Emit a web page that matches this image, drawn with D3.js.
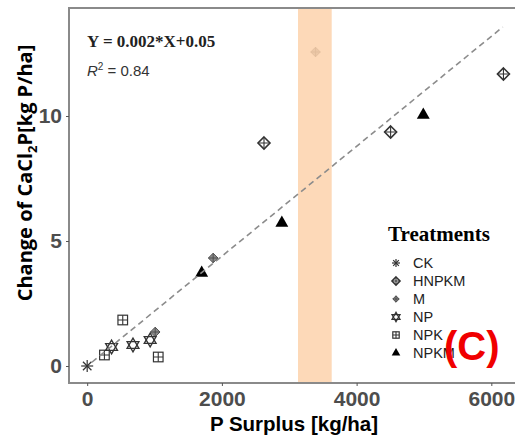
<!DOCTYPE html>
<html>
<head>
<meta charset="utf-8">
<script src="https://cdn.jsdelivr.net/npm/d3@7"></script>
<style>
  body { margin: 0; background: #fff; }
  text { font-family: Arial, "Liberation Sans", sans-serif; }
</style>
</head>
<body>
<div id="chart"></div>
<script>
'use strict';

// treatments and their points
var treatments = ['CK', 'HNPKM', 'M', 'NP', 'NPK', 'NPKM'];
var surplusCK = [0];
var changeCK = [0];
var surplusHNPKM = [2625, 4505, 6180];
var changeHNPKM = [8.92, 9.36, 11.68];
var surplusM = [1010, 1870, 3390];
var changeM = [1.36, 4.32, 12.56];
var surplusNP = [362, 680, 935];
var changeNP = [0.76, 0.84, 1.04];
var surplusNPK = [256, 528, 1055];
var changeNPK = [0.44, 1.84, 0.36];
var surplusNPKM = [1700, 2890, 4990];
var changeNPKM = [3.72, 5.72, 10.04];

// fitted line ends, highlighted band
var fitX = [70, 6170];
var fitY = [0.15, 13.56];
var band = [3130, 3630];

var xTicks = [0, 2000, 4000, 6000];
var yTicks = [0, 5, 10];

function render() {
  var width = 515, height = 437;
  var margin = {left: 69, top: 8, right: -10, bottom: 54};

  var svg = d3.select('#chart').append('svg')
    .attr('width', width)
    .attr('height', height);

  var x = d3.scaleLinear().domain([-270, 6500]).range([margin.left, width - margin.right]);
  var y = d3.scaleLinear().domain([-0.68, 14.32]).range([height - margin.bottom, margin.top]);

  var series = [
    {name: 'CK', xs: surplusCK, ys: changeCK},
    {name: 'HNPKM', xs: surplusHNPKM, ys: changeHNPKM},
    {name: 'M', xs: surplusM, ys: changeM},
    {name: 'NP', xs: surplusNP, ys: changeNP},
    {name: 'NPK', xs: surplusNPK, ys: changeNPK},
    {name: 'NPKM', xs: surplusNPKM, ys: changeNPKM}
  ];

  // marker drawing per treatment (ggplot shapes 8..12, 17)
  function drawShape(g, name, s) {
    var stroke = '#333';
    if (name === 'CK') {
      [0, 45, 90, 135].forEach(function(a) {
        g.append('line').attr('x1', -s).attr('x2', s).attr('y1', 0).attr('y2', 0)
          .attr('transform', 'rotate(' + a + ')')
          .attr('stroke', stroke).attr('stroke-width', 1.2);
      });
    } else if (name === 'HNPKM') {
      g.append('path').attr('d', 'M0,' + (-s) + 'L' + s + ',0L0,' + s + 'L' + (-s) + ',0Z')
        .attr('fill', 'none').attr('stroke', stroke).attr('stroke-width', 1.6);
      g.append('path').attr('d', 'M0,' + (-s) + 'V' + s + 'M' + (-s) + ',0H' + s)
        .attr('stroke', stroke).attr('stroke-width', 1.1);
    } else if (name === 'M') {
      var m = s * 0.8;
      g.append('path').attr('d', 'M0,' + (-m) + 'L' + m + ',0L0,' + m + 'L' + (-m) + ',0Z')
        .attr('fill', '#8a8a8a').attr('stroke', '#555').attr('stroke-width', 1);
      g.append('path').attr('d', 'M0,' + (-m) + 'V' + m + 'M' + (-m) + ',0H' + m)
        .attr('stroke', '#444').attr('stroke-width', 0.8);
    } else if (name === 'NP') {
      var r = s * 1.0;
      g.append('path').attr('d', d3.symbol().type(d3.symbolTriangle).size(r * r * 1.7)())
        .attr('fill', 'none').attr('stroke', stroke).attr('stroke-width', 1.3);
      g.append('path').attr('d', d3.symbol().type(d3.symbolTriangle).size(r * r * 1.7)())
        .attr('transform', 'rotate(180)')
        .attr('fill', 'none').attr('stroke', stroke).attr('stroke-width', 1.3);
    } else if (name === 'NPK') {
      var q = s * 0.8;
      g.append('rect').attr('x', -q).attr('y', -q).attr('width', 2 * q).attr('height', 2 * q)
        .attr('fill', 'none').attr('stroke', stroke).attr('stroke-width', 1.2);
      g.append('path').attr('d', 'M0,' + (-q) + 'V' + q + 'M' + (-q) + ',0H' + q)
        .attr('stroke', stroke).attr('stroke-width', 1.1);
    } else if (name === 'NPKM') {
      g.append('path').attr('d', d3.symbol().type(d3.symbolTriangle).size(s * s * 2.0)())
        .attr('fill', '#000');
    }
  }

  // points
  series.forEach(function(sr) {
    sr.xs.forEach(function(v, i) {
      var g = svg.append('g')
        .attr('transform', 'translate(' + x(v) + ',' + y(sr.ys[i]) + ')');
      drawShape(g, sr.name, 6);
    });
  });

  // highlighted band over the points
  svg.append('rect')
    .attr('x', x(band[0])).attr('y', margin.top)
    .attr('width', x(band[1]) - x(band[0]))
    .attr('height', y(-0.68) - margin.top)
    .attr('fill', '#fdd2ab').attr('opacity', 0.85);

  // fitted line
  svg.append('line')
    .attr('x1', x(fitX[0])).attr('y1', y(fitY[0]))
    .attr('x2', x(fitX[1])).attr('y2', y(fitY[1]))
    .attr('stroke', '#8c8c8c').attr('stroke-width', 1.6)
    .attr('stroke-dasharray', '6,4');

  // panel border: left, top, bottom
  var x0 = margin.left, yB = y(-0.68);
  svg.append('path')
    .attr('d', 'M' + width + ',' + margin.top + 'H' + x0 + 'V' + yB + 'H' + width)
    .attr('fill', 'none').attr('stroke', '#8a8a8a').attr('stroke-width', 2);

  // axes
  var xAxis = svg.append('g').attr('transform', 'translate(0,' + yB + ')')
    .call(d3.axisBottom(x).tickValues(xTicks).tickFormat(d3.format('d')).tickSize(3).tickPadding(5));
  var yAxis = svg.append('g').attr('transform', 'translate(' + x0 + ',0)')
    .call(d3.axisLeft(y).tickValues(yTicks).tickFormat(d3.format('d')).tickSize(3).tickPadding(4));
  [xAxis, yAxis].forEach(function(a) {
    a.select('.domain').remove();
    a.selectAll('.tick line').attr('stroke', '#555');
    a.selectAll('.tick text')
      .attr('fill', '#4d4d4d')
      .style('font-size', '21px')
      .style('font-weight', 'bold')
      .style('font-family', 'Arial, "Liberation Sans", sans-serif');
  });

  // axis titles
  svg.append('text')
    .attr('x', 294).attr('y', 431)
    .attr('text-anchor', 'middle')
    .style('font-size', '20.5px').style('font-weight', 'bold')
    .text('P Surplus [kg/ha]');

  var yt = svg.append('text')
    .attr('transform', 'translate(32,173) rotate(-90)')
    .attr('text-anchor', 'middle')
    .style('font-family', '"Open Sans", sans-serif')
    .style('font-size', '20px').style('font-weight', 'bold');
  yt.append('tspan').text('Change of CaCl');
  yt.append('tspan').attr('dy', 5).style('font-size', '13px').text('2');
  yt.append('tspan').attr('dy', -5).text('P[kg P/ha]');

  // equation
  svg.append('text')
    .attr('x', 87).attr('y', 47)
    .style('font-family', '"Liberation Serif", "Times New Roman", serif')
    .style('font-size', '17px').style('font-weight', 'bold')
    .attr('fill', '#222')
    .text('Y = 0.002*X+0.05');
  var r2 = svg.append('text')
    .attr('x', 87).attr('y', 76)
    .style('font-size', '15px').attr('fill', '#333');
  r2.append('tspan').style('font-style', 'italic').text('R');
  r2.append('tspan').attr('dy', -6).style('font-size', '10px').text('2');
  r2.append('tspan').attr('dy', 6).text(' = 0.84');

  // legend
  svg.append('text')
    .attr('x', 388).attr('y', 241)
    .style('font-family', '"Liberation Serif", "Times New Roman", serif')
    .style('font-size', '21px').style('font-weight', 'bold')
    .text('Treatments');
  var ly = d3.scalePoint().domain(treatments).range([263, 353]);
  treatments.forEach(function(t) {
    var g = svg.append('g').attr('transform', 'translate(396,' + ly(t) + ')');
    drawShape(g, t, 4);
    svg.append('text')
      .attr('x', 413).attr('y', ly(t) + 5)
      .style('font-size', '14.5px').attr('fill', '#222')
      .text(t);
  });

  // panel tag
  svg.append('text')
    .attr('x', 444).attr('y', 360)
    .attr('fill', '#f00000')
    .style('font-size', '40px').style('font-weight', 'bold')
    .text('(C)');
}

render();
</script>
</body>
</html>
